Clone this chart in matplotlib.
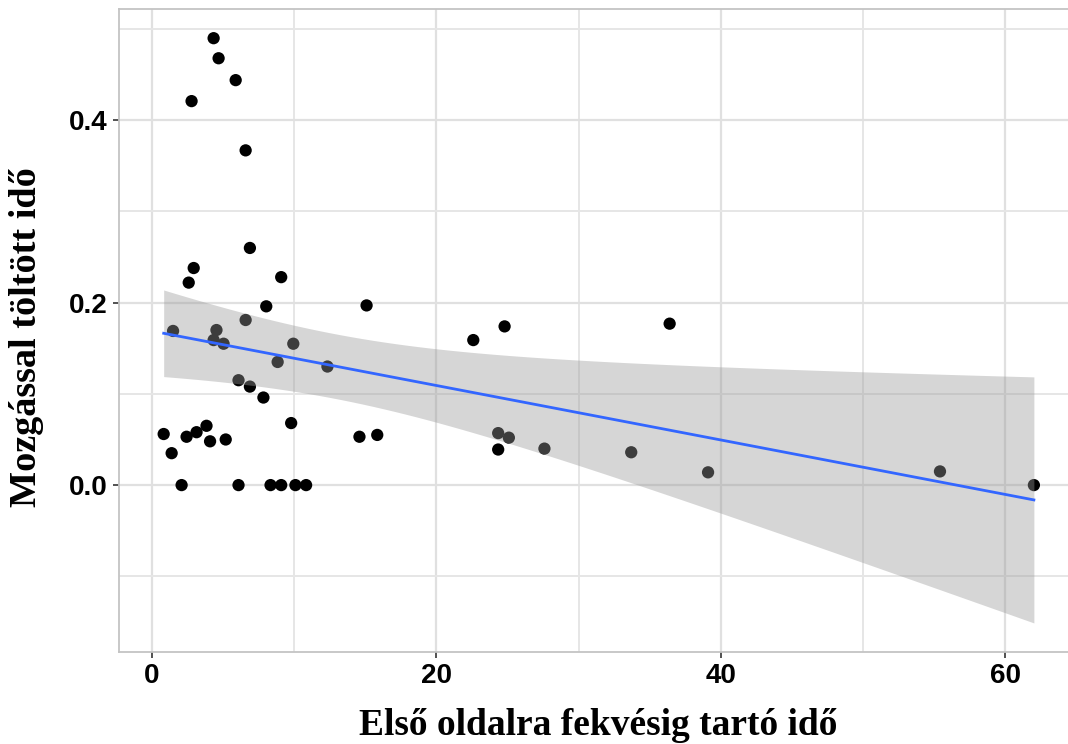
import numpy as np
import matplotlib
matplotlib.use("Agg")
import matplotlib.pyplot as plt
from matplotlib.ticker import MultipleLocator

# --------------------------------------------------
# adatok
# --------------------------------------------------
fekves_ido = [0.84, 1.4, 1.5, 2.1, 2.45, 2.6, 2.8, 2.95, 3.15, 3.85,
              4.1, 4.35, 4.35, 4.55, 4.7, 5.05, 5.2, 5.9, 6.1, 6.1,
              6.6, 6.6, 6.9, 6.9, 7.85, 8.05, 8.35, 8.85, 9.1, 9.1,
              9.8, 9.95, 10.1, 10.85, 12.35, 14.6, 15.1, 15.85, 22.6, 24.35,
              24.35, 24.8, 25.1, 27.6, 33.7, 36.4, 39.1, 55.4, 62.0]
mozgas_ido = [0.056, 0.035, 0.169, 0.0, 0.053, 0.222, 0.421, 0.238, 0.058, 0.065,
              0.048, 0.490, 0.159, 0.170, 0.468, 0.155, 0.050, 0.444, 0.115, 0.0,
              0.367, 0.181, 0.108, 0.260, 0.096, 0.196, 0.0, 0.135, 0.228, 0.0,
              0.068, 0.155, 0.0, 0.0, 0.130, 0.053, 0.197, 0.055, 0.159, 0.057,
              0.039, 0.174, 0.052, 0.040, 0.036, 0.177, 0.014, 0.015, 0.0]

x_ticks = [0, 20, 40, 60]
y_ticks = [0.0, 0.2, 0.4]
x_cim = "Első oldalra fekvésig tartó idő"
y_cim = "Mozgással töltött idő"

T_CRIT = 2.012  # t(0.975, df=47)


# --------------------------------------------------
# lineáris illesztés + 95% CI (mint geom_smooth(method="lm"))
# --------------------------------------------------
def lm_fit(x, y, n_grid=80):
    x = np.asarray(x)
    y = np.asarray(y)
    n = len(x)
    b1, b0 = np.polyfit(x, y, 1)
    resid = y - (b0 + b1 * x)
    s = np.sqrt(np.sum(resid ** 2) / (n - 2))
    xg = np.linspace(x.min(), x.max(), n_grid)
    yg = b0 + b1 * xg
    se = s * np.sqrt(1 / n + (xg - x.mean()) ** 2 / np.sum((x - x.mean()) ** 2))
    return xg, yg, yg - T_CRIT * se, yg + T_CRIT * se


def main():
    W, H = 1068, 744
    fig = plt.figure(figsize=(W / 100, H / 100), dpi=100)
    # panel pixelben (a jobb szél kilóg a képből, mint az eredetin)
    left, right, top, bottom = 119, 1078, 9, 652
    pw, ph = right - left, bottom - top
    ax = fig.add_axes([left / W, 1 - bottom / H, pw / W, ph / H])

    ax.scatter(fekves_ido, mozgas_ido, s=78, color="black", edgecolors="none", zorder=2)

    xg, yg, lo, hi = lm_fit(fekves_ido, mozgas_ido)
    ax.fill_between(xg, lo, hi, color="#999999", alpha=0.4, linewidth=0, zorder=3)
    ax.plot(xg, yg, color="#3366FF", lw=2.0, zorder=4)

    ax.set_xlim(-2.3, 65.1)
    ax.set_ylim(-0.183, 0.522)
    ax.set_xticks(x_ticks)
    ax.set_yticks(y_ticks)
    ax.set_yticklabels([f"{v:.1f}" for v in y_ticks])
    ax.xaxis.set_minor_locator(MultipleLocator(10))
    ax.yaxis.set_minor_locator(MultipleLocator(0.1))

    ax.grid(which="major", color="#e0e0e0", lw=1.6, zorder=0)
    ax.grid(which="minor", color="#e6e6e6", lw=1.4, zorder=0)
    ax.set_axisbelow(True)

    for side in ["left", "bottom", "top", "right"]:
        ax.spines[side].set_color("#c4c4c4")
        ax.spines[side].set_linewidth(1.3)

    ax.tick_params(which="major", length=4, width=1.2, color="#333333", pad=4)
    ax.tick_params(which="minor", length=0)
    for lab in ax.get_xticklabels() + ax.get_yticklabels():
        lab.set_fontfamily("Liberation Sans")
        lab.set_fontweight("bold")
        lab.set_fontsize(20)
        lab.set_color("black")

    # tengelycímek: alapvonal pixelben megadva
    ax.set_xlabel(x_cim, family="Liberation Serif", fontweight="bold", fontsize=27)
    ax.xaxis.label.set_va("baseline")
    ax.xaxis.set_label_coords(0.5, -(735 - bottom) / ph)
    ax.set_ylabel(y_cim, family="Liberation Serif", fontweight="bold", fontsize=27.5)
    ax.yaxis.label.set_va("baseline")
    ax.yaxis.set_label_coords(-(left - 36) / pw, 0.49)

    fig.savefig("out.png", dpi=100)
    plt.close(fig)


if __name__ == "__main__":
    main()
